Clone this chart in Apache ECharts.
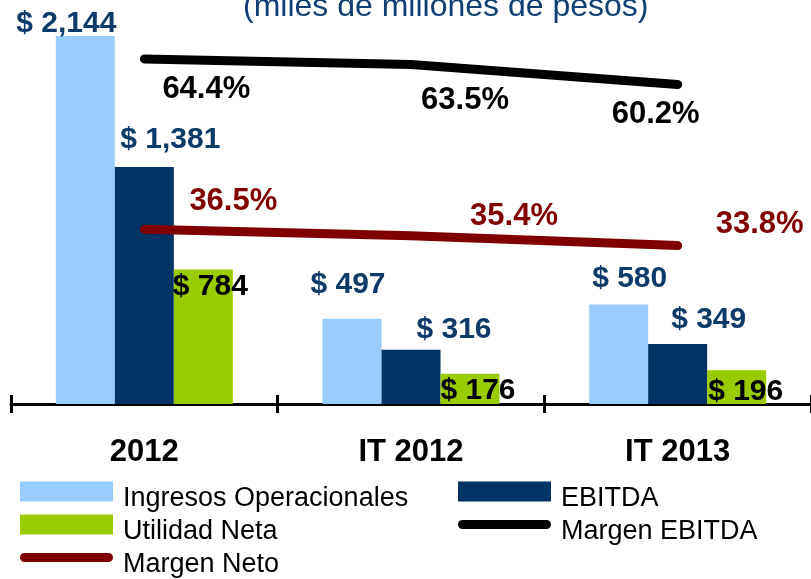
<!DOCTYPE html>
<html>
<head>
<meta charset="utf-8">
<title>Resultados</title>
<script src="https://cdn.jsdelivr.net/npm/echarts@6/dist/echarts.min.js"></script>
<style>
  html, body { margin: 0; padding: 0; background: #fff; }
  #chart { width: 811px; height: 579px; }
</style>
</head>
<body>
<div id="chart"></div>
<script>
const categories = ['2012', 'IT 2012', 'IT 2013'];
const ingresos = [2144, 497, 580];
const ebitda = [1381, 316, 349];
const utilidad = [784, 176, 196];
const margenEbitda = [64.4, 63.5, 60.2];
const margenNeto = [36.5, 35.4, 33.8];

// label nudges, the original labels sit off-center
const offIngresos = [[-19, 3], [-4, -19], [11, -11]];
const offEbitda = [[26, -12], [43, -5], [31, -9]];
const offUtilidad = [[7, 32], [8, 32], [9, 36]];
const offMEbitda = [[62, 31], [54, 36], [-22, 30]];
const offMNeto = [[89, -28], [103, -19], [82, -21]];

const FONT = 'Liberation Sans';
const NAVY_TXT = '#0E3A6A';

const money = (p) => '$ ' + p.value.toLocaleString('en-US');
const pct = (p) => p.value.toFixed(1) + '%';

const withOffsets = (values, offsets) =>
  values.map((v, i) => ({ value: v, label: { offset: offsets[i] } }));

const barLabel = (color) => ({
  show: true,
  position: 'top',
  distance: 0,
  formatter: money,
  color: color,
  fontFamily: FONT,
  fontWeight: 'bold',
  fontSize: 30
});

const lineLabel = (color) => ({
  show: true,
  position: 'inside',
  formatter: pct,
  color: color,
  fontFamily: FONT,
  fontWeight: 'bold',
  fontSize: 31
});

const lineIcon = 'path://M4.5,0 H88.5 A4.5,4.5 0 0 1 88.5,9 H4.5 A4.5,4.5 0 0 1 4.5,0 Z';

const legendBase = {
  orient: 'vertical',
  top: 471,
  height: 150,
  padding: 0,
  itemWidth: 93,
  itemHeight: 20,
  itemGap: -8,
  itemStyle: { borderWidth: 0 },
  formatter: '{t|{name}}',
  textStyle: {
    fontFamily: FONT,
    fontSize: 27,
    color: '#000',
    rich: {
      t: {
        fontFamily: FONT,
        fontSize: 27,
        color: '#000',
        lineHeight: 20,
        padding: [14, 0, 0, 5]
      }
    }
  }
};

const tickStyle = { show: true, length: 9, lineStyle: { color: '#000', width: 3 } };

const chart = echarts.init(document.getElementById('chart'));
chart.setOption({
  animation: false,
  title: {
    text: '(miles de millones de pesos)',
    left: 243,
    top: -9,
    padding: 0,
    textStyle: { fontFamily: FONT, fontSize: 32, fontWeight: 'normal', color: '#123F73' }
  },
  legend: [
    Object.assign({}, legendBase, {
      left: 20,
      data: [
        { name: 'Ingresos Operacionales', icon: 'rect' },
        { name: 'Utilidad Neta', icon: 'rect' },
        { name: 'Margen Neto', icon: lineIcon }
      ]
    }),
    Object.assign({}, legendBase, {
      left: 458,
      data: [
        { name: 'EBITDA', icon: 'rect' },
        { name: 'Margen EBITDA', icon: lineIcon }
      ]
    })
  ],
  grid: { left: 11, right: 0, top: 4, bottom: 175, containLabel: false },
  xAxis: [
    {
      type: 'category',
      data: categories,
      axisLine: { lineStyle: { color: '#000', width: 3 } },
      axisTick: tickStyle,
      axisLabel: {
        margin: 33,
        color: '#000',
        fontFamily: FONT,
        fontWeight: 'bold',
        fontSize: 31
      }
    },
    {
      // upper half of the tick marks
      type: 'category',
      data: categories,
      position: 'top',
      offset: -400,
      axisLine: { show: false },
      axisTick: tickStyle,
      axisLabel: { show: false }
    }
  ],
  yAxis: [
    { type: 'value', min: 0, max: 2331, show: false },
    { type: 'value', min: 7.84, max: 73.4, show: false }
  ],
  series: [
    {
      name: 'Ingresos Operacionales',
      type: 'bar',
      barWidth: 59,
      barGap: '0%',
      itemStyle: { color: '#99CCFF' },
      label: barLabel(NAVY_TXT),
      data: withOffsets(ingresos, offIngresos)
    },
    {
      name: 'EBITDA',
      type: 'bar',
      barWidth: 59,
      barGap: '0%',
      itemStyle: { color: '#003366' },
      label: barLabel(NAVY_TXT),
      data: withOffsets(ebitda, offEbitda)
    },
    {
      name: 'Utilidad Neta',
      type: 'bar',
      barWidth: 59,
      barGap: '0%',
      itemStyle: { color: '#99CC00' },
      label: barLabel('#000'),
      data: withOffsets(utilidad, offUtilidad)
    },
    {
      name: 'Margen EBITDA',
      type: 'line',
      yAxisIndex: 1,
      symbol: 'circle',
      symbolSize: 2,
      itemStyle: { color: '#000' },
      lineStyle: { color: '#000', width: 9, cap: 'round' },
      label: lineLabel('#000'),
      data: withOffsets(margenEbitda, offMEbitda)
    },
    {
      name: 'Margen Neto',
      type: 'line',
      yAxisIndex: 1,
      symbol: 'circle',
      symbolSize: 2,
      itemStyle: { color: '#800000' },
      lineStyle: { color: '#800000', width: 9, cap: 'round' },
      label: lineLabel('#800000'),
      data: withOffsets(margenNeto, offMNeto)
    }
  ]
});
</script>
</body>
</html>
